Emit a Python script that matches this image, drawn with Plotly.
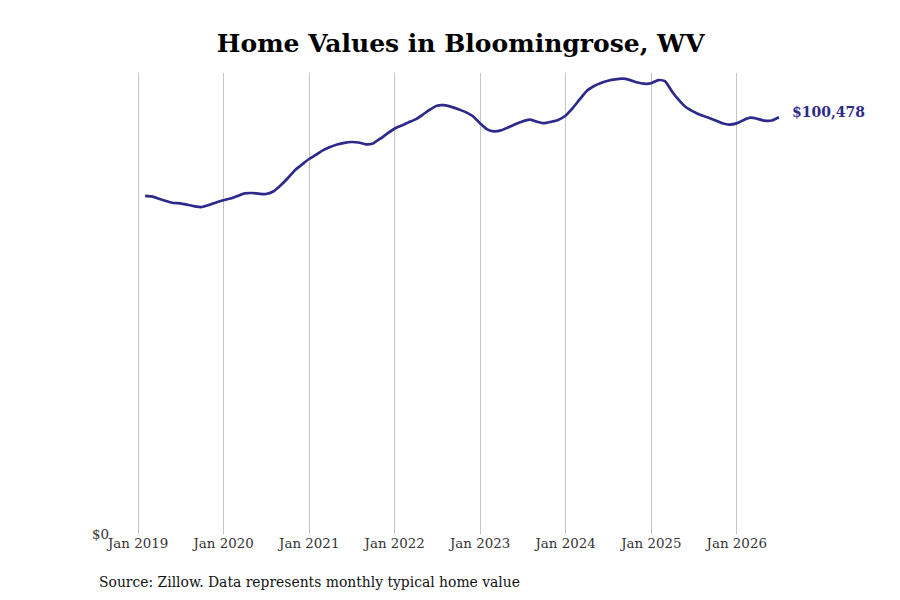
import pandas as pd
import plotly.graph_objects as go

dates = pd.date_range("2019-01-31", "2026-06-30", freq="ME")
values = [
    81540, 81396, 80817, 80286, 79804, 79732, 79394, 79008, 78840, 79322, 79949, 80479,
    80889, 81492, 82119, 82215, 82046, 81974, 82577, 84023, 85711, 87664, 89038, 90413,
    91449, 92486, 93306, 93908, 94318, 94511, 94391, 93957, 94174, 95307, 96536, 97718,
    98489, 99213, 99960, 101069, 102299, 103263, 103384, 102974, 102419, 101720, 100780, 99044,
    97549, 97067, 97308, 98031, 98803, 99454, 99888, 99430, 99044, 99381, 99815, 100828,
    102660, 104710, 106807, 107965, 108760, 109291, 109628, 109773, 109484, 108905, 108567, 108664,
    109435, 109170, 106639, 104565, 102829, 101841, 101021, 100418, 99743, 99044, 98706, 98996,
    99840, 100370, 100081, 99647, 99695, 100478,
]
tick_dates = pd.date_range("2019-01-01", "2026-01-01", freq="YS")
tick_labels = [d.strftime("%b %Y") for d in tick_dates]
title_text = "Home Values in Bloomingrose, WV"
source_text = "Source: Zillow. Data represents monthly typical home value"
last_label = "${:,.0f}".format(values[-1])

LINE = "#2e2a8c"
FONT = "DejaVu Serif"

fig = go.Figure()
fig.add_trace(go.Scatter(
    x=dates, y=values, mode="lines",
    line=dict(color=LINE, width=2.7, shape="spline", smoothing=0.6),
    hoverinfo="skip", showlegend=False,
))

fig.add_annotation(
    x=dates[-1], y=values[-1], text="<b>" + last_label + "</b>",
    showarrow=False, xanchor="left", yanchor="middle", xshift=11, yshift=5,
    font=dict(family=FONT, size=14, color=LINE),
)
fig.add_annotation(
    xref="paper", yref="paper", x=-0.0193, y=-0.104,
    text=source_text, showarrow=False, xanchor="left", yanchor="middle",
    font=dict(family=FONT, size=13.9, color="#111111"),
)

fig.update_layout(
    width=900, height=600,
    paper_bgcolor="white", plot_bgcolor="white",
    margin=dict(l=102, r=123, t=65, b=74),
    title=dict(text="<b>" + title_text + "</b>", x=0.503, xref="container", xanchor="center",
               y=0.9417, yref="container", yanchor="middle",
               font=dict(family=FONT, size=25, color="#000000")),
    font=dict(family=FONT, size=13.4, color="#333333"),
    xaxis=dict(
        range=["2018-09-03", "2026-07-26"],
        tickvals=tick_dates, ticktext=tick_labels,
        showgrid=True, gridcolor="#c4c4c4", gridwidth=1,
        zeroline=False, showline=False, ticks="",
        tickfont=dict(family=FONT, size=13.4, color="#333333"),
    ),
    yaxis=dict(
        range=[0, 111150],
        tickvals=[0], ticktext=["$0"],
        showgrid=False, zeroline=False, showline=False, ticks="",
        tickfont=dict(family=FONT, size=13.4, color="#333333"),
    ),
)

fig.write_html("out.html")
